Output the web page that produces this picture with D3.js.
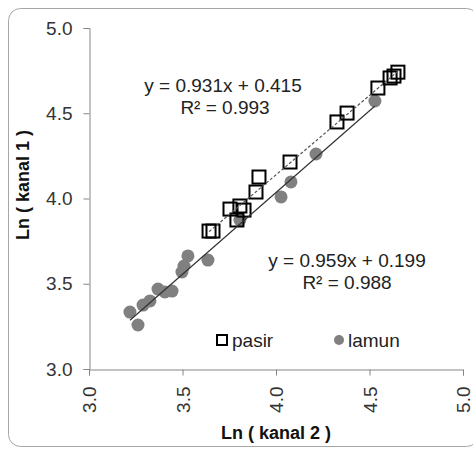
<!DOCTYPE html>
<html lang="en">
<head>
    <meta charset="UTF-8">
    <title>Ln kanal 1 vs Ln kanal 2</title>
    <script src="https://cdn.jsdelivr.net/npm/d3@7"></script>
    <style>
        body { margin: 0; background: #fff; }
        text { font-family: "Liberation Sans", Arial, sans-serif; }
    </style>
</head>
<body>
<script>
  // data
  var pasirX = [3.642, 3.663, 3.754, 3.807, 3.829, 3.791, 3.893, 3.909, 4.075, 4.326, 4.380, 4.545, 4.610, 4.631, 4.652];
  var pasirY = [3.809, 3.809, 3.938, 3.956, 3.932, 3.874, 4.038, 4.126, 4.214, 4.449, 4.501, 4.648, 4.707, 4.718, 4.741];

  var lamunX = [3.219, 3.262, 3.289, 3.326, 3.369, 3.406, 3.444, 3.497, 3.508, 3.529, 3.636, 3.807, 4.027, 4.080, 4.214, 4.529];
  var lamunY = [3.334, 3.258, 3.375, 3.399, 3.469, 3.452, 3.457, 3.569, 3.604, 3.663, 3.639, 3.874, 4.009, 4.097, 4.261, 4.572];

  // trendline coefficients (slope, intercept) and R²
  var pasirFit = [0.931, 0.415];
  var lamunFit = [0.959, 0.199];
  var r2 = [0.993, 0.988];

  var ticks = [3.0, 3.5, 4.0, 4.5, 5.0];

  drawChart();

  function drawChart() {
    var width = 473, height = 449;

    var svg = d3.select("body").append("svg")
      .attr("width", width)
      .attr("height", height);

    // outer frame
    svg.append("rect")
      .attr("x", 8.5).attr("y", 8.5)
      .attr("width", 470).attr("height", 438)
      .attr("rx", 12).attr("ry", 12)
      .attr("fill", "#fff")
      .attr("stroke", "#a6a6a6")
      .attr("stroke-width", 1);

    var x = d3.scaleLinear().domain([3, 5]).range([89, 463]);
    var y = d3.scaleLinear().domain([3, 5]).range([369, 28]);

    // axes
    var yAxis = svg.append("g")
      .attr("transform", "translate(89.5,0)")
      .call(d3.axisLeft(y).tickValues(ticks).tickFormat(d3.format(".1f")).tickSizeOuter(0).tickSize(6).tickPadding(11));
    var xAxis = svg.append("g")
      .attr("transform", "translate(0,369.5)")
      .call(d3.axisBottom(x).tickValues(ticks).tickFormat(d3.format(".1f")).tickSizeOuter(0).tickSize(6));

    [yAxis, xAxis].forEach(function (g) {
      g.select(".domain").attr("stroke", "#868686");
      g.selectAll(".tick line").attr("stroke", "#868686");
      g.selectAll(".tick text")
        .attr("fill", "#333")
        .style("font-size", "19px")
        .style("font-family", "Liberation Sans, Arial, sans-serif");
    });

    xAxis.selectAll(".tick text")
      .attr("transform", "rotate(-90)")
      .attr("text-anchor", "end")
      .attr("x", -17)
      .attr("y", 0)
      .attr("dy", "0.35em");

    var lamun = lamunX.map(function (d, i) { return {x: d, y: lamunY[i]}; });
    var pasir = pasirX.map(function (d, i) { return {x: d, y: pasirY[i]}; });

    // lamun points
    svg.append("g").selectAll("circle")
      .data(lamun)
      .enter().append("circle")
      .attr("cx", function (d) { return x(d.x); })
      .attr("cy", function (d) { return y(d.y); })
      .attr("r", 6.5)
      .attr("fill", "#808080");

    // pasir points
    var s = 13;
    svg.append("g").selectAll("rect")
      .data(pasir)
      .enter().append("rect")
      .attr("x", function (d) { return x(d.x) - s / 2; })
      .attr("y", function (d) { return y(d.y) - s / 2; })
      .attr("width", s).attr("height", s)
      .attr("fill", "none")
      .attr("stroke", "#000")
      .attr("stroke-width", 2);

    // trendlines
    function trend(fit, xs, dash) {
      var x0 = d3.min(xs), x1 = d3.max(xs);
      svg.append("line")
        .attr("x1", x(x0)).attr("y1", y(fit[0] * x0 + fit[1]))
        .attr("x2", x(x1)).attr("y2", y(fit[0] * x1 + fit[1]))
        .attr("stroke", dash ? "#555" : "#333")
        .attr("stroke-width", 1.2)
        .attr("stroke-dasharray", dash ? "3,2" : null);
    }
    trend(lamunFit, lamunX, false);
    trend(pasirFit, pasirX, true);

    // equations
    function label(tx, ty, str) {
      svg.append("text")
        .attr("x", tx).attr("y", ty)
        .attr("text-anchor", "middle")
        .attr("dy", "0.35em")
        .attr("fill", "#222")
        .style("font-size", "19px")
        .text(str);
    }
    label(223, 85, "y = " + pasirFit[0].toFixed(3) + "x + " + pasirFit[1].toFixed(3));
    label(225, 107, "R\u00b2 = " + r2[0].toFixed(3));
    label(347, 260, "y = " + lamunFit[0].toFixed(3) + "x + " + lamunFit[1].toFixed(3));
    label(347, 282, "R\u00b2 = " + r2[1].toFixed(3));

    // legend
    svg.append("rect")
      .attr("x", 217).attr("y", 335)
      .attr("width", 10).attr("height", 10)
      .attr("fill", "none").attr("stroke", "#000").attr("stroke-width", 2);
    svg.append("text")
      .attr("x", 232).attr("y", 340).attr("dy", "0.35em")
      .attr("fill", "#222").style("font-size", "19px")
      .text("pasir");
    svg.append("circle")
      .attr("cx", 339).attr("cy", 340).attr("r", 5)
      .attr("fill", "#808080");
    svg.append("text")
      .attr("x", 348).attr("y", 340).attr("dy", "0.35em")
      .attr("fill", "#222").style("font-size", "19px")
      .text("lamun");

    // axis titles
    svg.append("text")
      .attr("transform", "translate(23,185) rotate(-90)")
      .attr("text-anchor", "middle")
      .attr("dy", "0.35em")
      .attr("fill", "#111")
      .style("font-size", "18px")
      .style("font-weight", "bold")
      .text("Ln ( kanal 1 )");
    svg.append("text")
      .attr("x", 276).attr("y", 433)
      .attr("text-anchor", "middle")
      .attr("dy", "0.35em")
      .attr("fill", "#111")
      .style("font-size", "18px")
      .style("font-weight", "bold")
      .text("Ln ( kanal 2 )");
  }
</script>
</body>
</html>
